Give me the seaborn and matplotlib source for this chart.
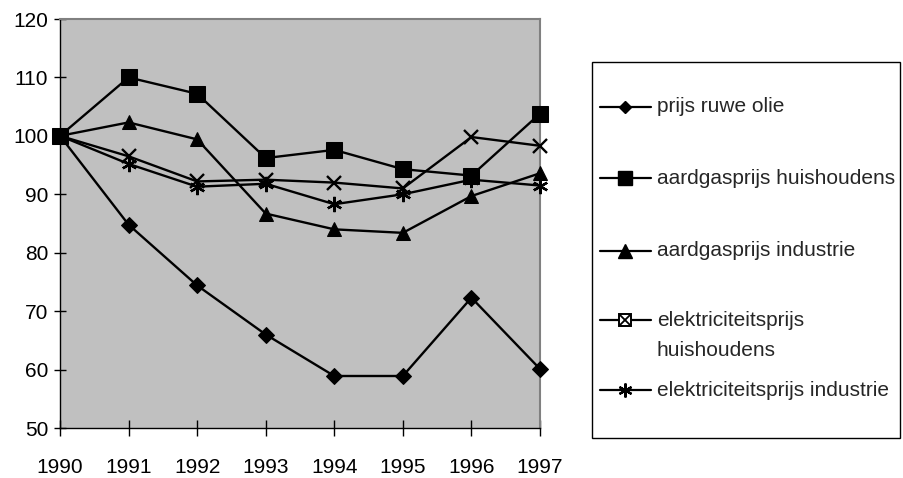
import matplotlib
matplotlib.use("Agg")
import matplotlib.pyplot as plt
from matplotlib.lines import Line2D
from matplotlib.patches import Rectangle
import seaborn as sns
import pandas as pd

# ---- data ----
years = [1990, 1991, 1992, 1993, 1994, 1995, 1996, 1997]
oil = [100, 84.8, 74.4, 66.0, 58.9, 58.9, 72.3, 60.1]
gas_hh = [100, 110.0, 107.2, 96.2, 97.6, 94.3, 93.2, 103.8]
gas_ind = [100, 102.3, 99.4, 86.7, 84.0, 83.4, 89.7, 93.6]
el_hh = [100, 96.5, 92.2, 92.5, 92.0, 91.0, 99.8, 98.3]
el_ind = [100, 95.2, 91.3, 91.8, 88.3, 90.0, 92.5, 91.5]
labels = ["prijs ruwe olie", "aardgasprijs huishoudens", "aardgasprijs industrie",
          "elektriciteitsprijs\nhuishoudens", "elektriciteitsprijs industrie"]
yticks = [50, 60, 70, 80, 90, 100, 110, 120]

sns.set_style("white")
plt.rcParams["font.family"] = ["Liberation Sans", "DejaVu Sans"]

W, H = 904, 478
fig = plt.figure(figsize=(W / 100, H / 100), dpi=100)
ax = fig.add_axes([60 / W, 1 - 428 / H, 480 / W, 409 / H])
ax.set_facecolor("#C0C0C0")

series = [oil, gas_hh, gas_ind, el_hh, el_ind]
styles = [
    dict(marker="D", markersize=7.8),
    dict(marker="s", markersize=11),
    dict(marker="^", markersize=10.5),
    dict(marker="x", markersize=10.5, markeredgewidth=1.7),
    dict(marker=(6, 2, 0), markersize=11, markeredgewidth=1.7),
]
for vals, lab, st in zip(series, labels, styles):
    df = pd.DataFrame({"year": years, "value": vals})
    sns.lineplot(data=df, x="year", y="value", ax=ax, color="black",
                 linewidth=1.7, markeredgecolor="black", markerfacecolor="black",
                 clip_on=False, zorder=3, **st)

ax.set_xlim(years[0], years[-1])
ax.set_ylim(yticks[0], yticks[-1])
ax.set_xticks(years)
ax.set_xticklabels([str(y) for y in years])
ax.set_yticks(yticks)
ax.set_xlabel("")
ax.set_ylabel("")
for s in ["top", "right"]:
    ax.spines[s].set_color("#808080")
    ax.spines[s].set_linewidth(1.5)
for s in ["left", "bottom"]:
    ax.spines[s].set_color("black")
    ax.spines[s].set_linewidth(1.0)
ax.tick_params(axis="x", direction="inout", length=11, width=1, pad=16,
               labelsize=15, colors="black", bottom=True)
ax.tick_params(axis="y", direction="inout", length=9, width=1, pad=4,
               labelsize=15, colors="black", left=True)
ax.grid(False)

# ---- legend (figure coordinates from pixel positions) ----
def fx(px):
    return px / W

def fy(py):
    return 1 - py / H

box_top, box_bot = 62, 438
fig.patches.append(Rectangle((fx(592), fy(box_bot)), fx(900) - fx(592),
                             fy(box_top) - fy(box_bot), transform=fig.transFigure,
                             facecolor="white", edgecolor="black", linewidth=1.0))

entry_y = [107, 178, 251, 320, 390]
leg_styles = [
    dict(marker="D", markersize=6.5),
    dict(marker="s", markersize=10),
    dict(marker="^", markersize=9.5),
    None,
    dict(marker=(6, 2, 0), markersize=10, markeredgewidth=1.6),
]
for y, lab, st in zip(entry_y, labels, leg_styles):
    fig.add_artist(Line2D([fx(600), fx(651)], [fy(y), fy(y)], transform=fig.transFigure,
                          color="black", linewidth=1.6))
    if st is None:
        fig.add_artist(Line2D([fx(625.5)], [fy(y)], transform=fig.transFigure,
                              marker="s", markersize=9, markerfacecolor="white",
                              markeredgecolor="black", markeredgewidth=1.4, linestyle="none"))
        fig.add_artist(Line2D([fx(625.5)], [fy(y)], transform=fig.transFigure,
                              marker="x", markersize=7, markeredgecolor="black",
                              markeredgewidth=1.3, linestyle="none"))
    else:
        fig.add_artist(Line2D([fx(625.5)], [fy(y)], transform=fig.transFigure,
                              markerfacecolor="black", markeredgecolor="black",
                              linestyle="none", **st))
    if "\n" in lab:
        first, second = lab.split("\n")
        fig.text(fx(657), fy(y), first, fontsize=15, va="center", ha="left")
        fig.text(fx(657), fy(y + 31), second, fontsize=15, va="center", ha="left")
    else:
        fig.text(fx(657), fy(y), lab, fontsize=15, va="center", ha="left")

fig.savefig("out.png", dpi=100, facecolor="white")
